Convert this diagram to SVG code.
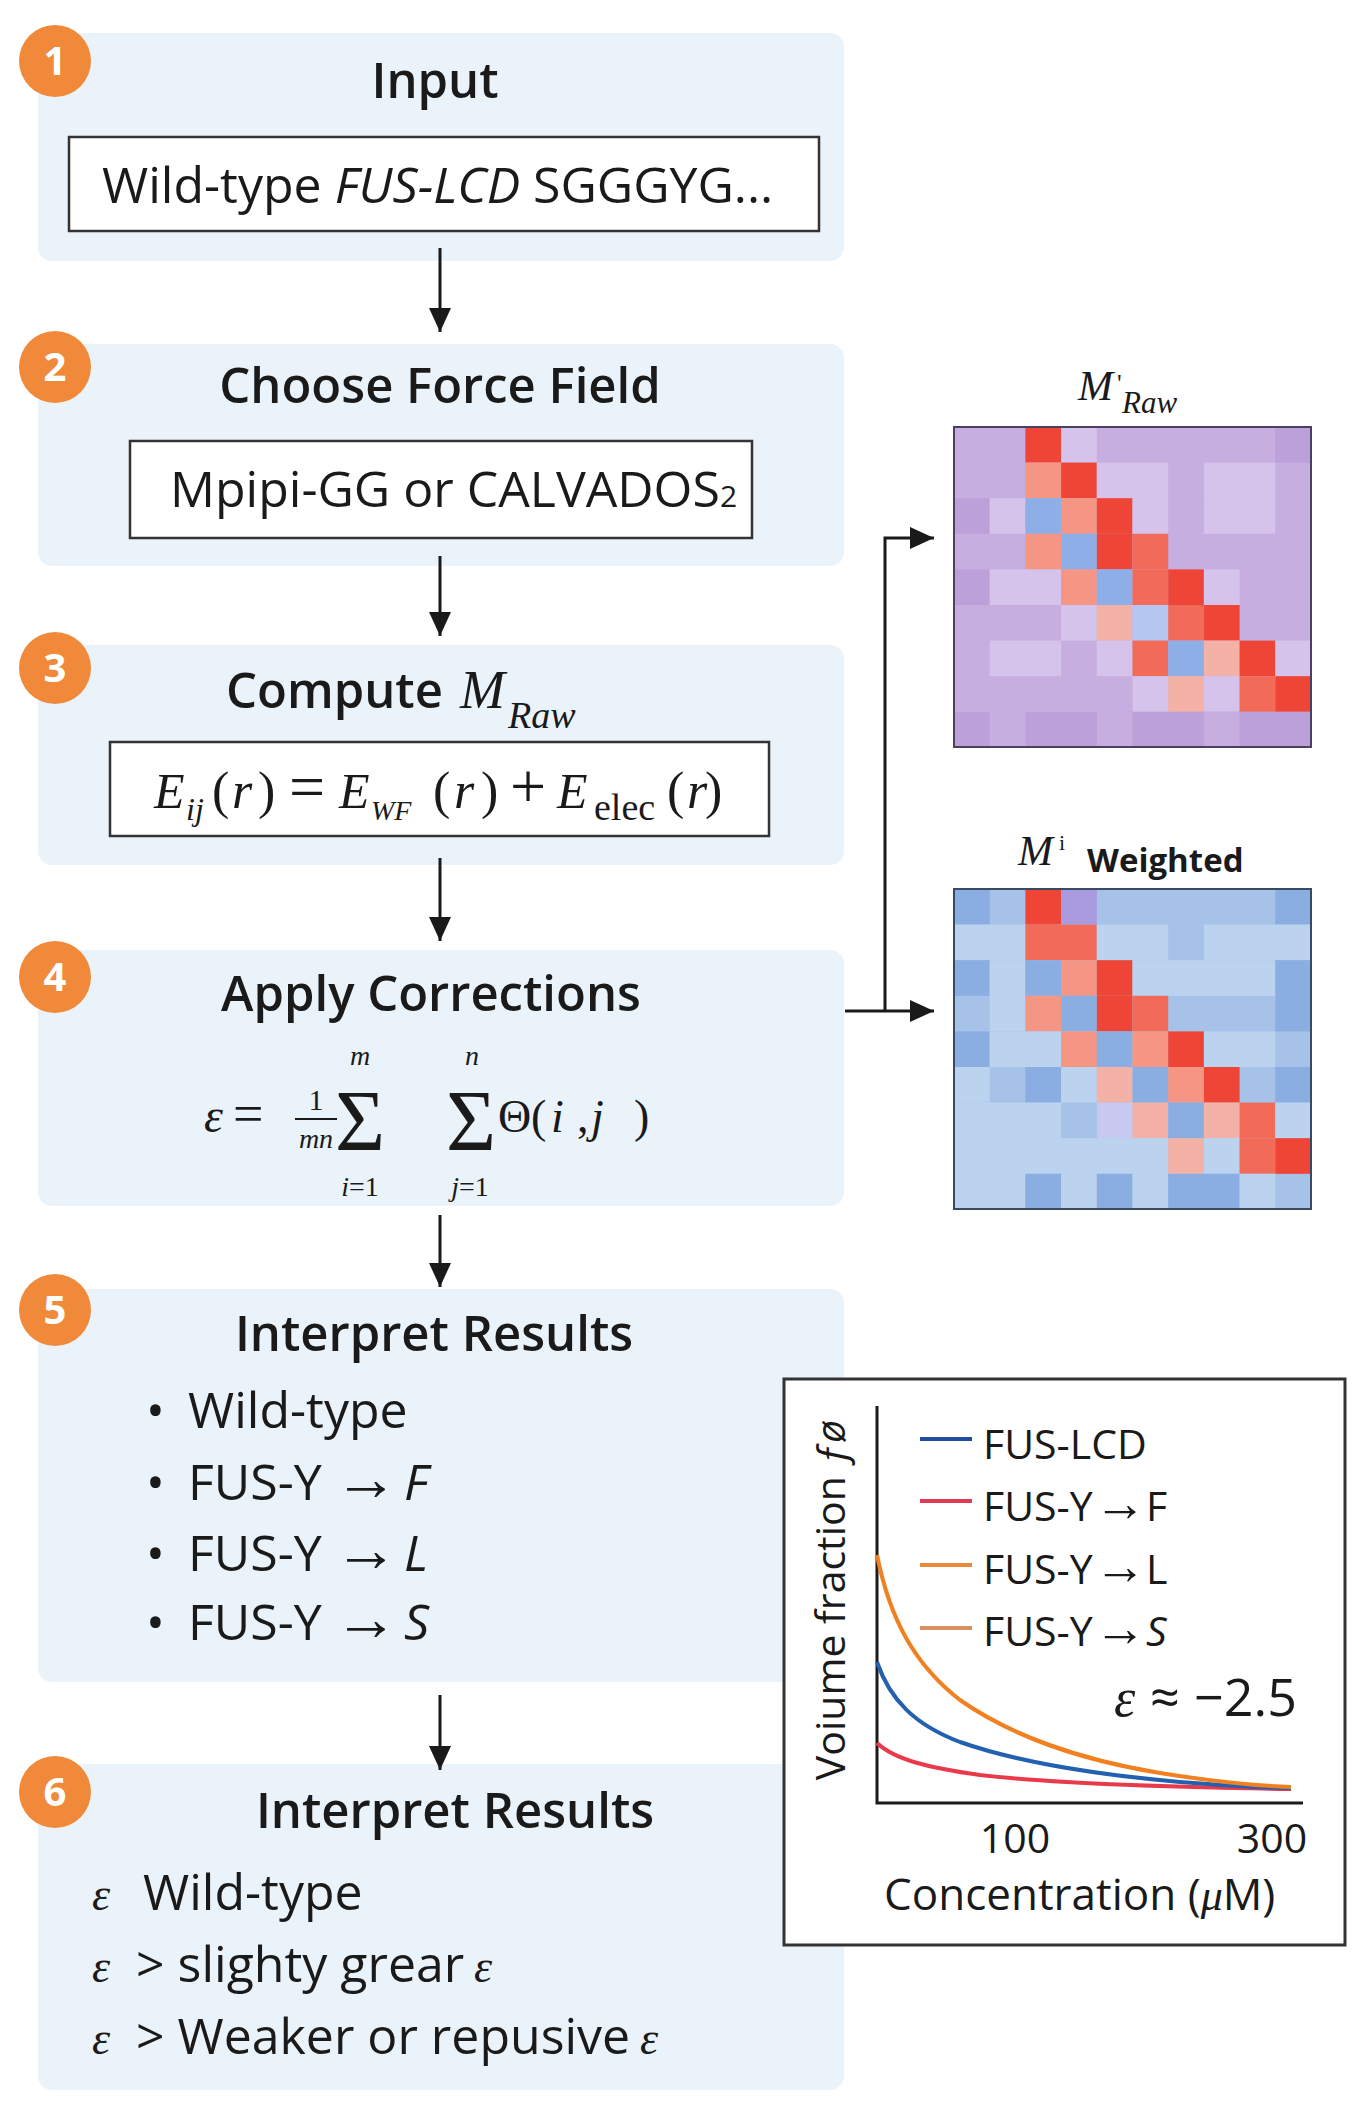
<svg xmlns="http://www.w3.org/2000/svg" width="1363" height="2120" viewBox="0 0 1363 2120">
<defs>
<marker id="ah" viewBox="0 0 24 22" refX="24" refY="11" markerWidth="24" markerHeight="22" markerUnits="userSpaceOnUse" orient="auto">
<path d="M0,0 L24,11 L0,22 Z" fill="#1a1a1a"/>
</marker>
<style>
.panel{fill:#eaf3fa}
.badge{fill:#f08a3a}
.bnum{font-family:"Open Sans","Noto Sans","Liberation Sans",sans-serif;font-weight:700;font-size:40px;fill:#fff;text-anchor:middle}
.h{font-family:"Open Sans","Noto Sans","Liberation Sans",sans-serif;font-weight:600;font-size:49px;fill:#1a1a1a}
.t{font-family:"Open Sans","Noto Sans","Liberation Sans",sans-serif;font-size:50px;fill:#1a1a1a}
.ti{font-style:italic}
.ar{font-family:"Liberation Sans","DejaVu Sans",sans-serif;fill:#1a1a1a;text-anchor:middle}
.m{font-family:"Liberation Serif","DejaVu Serif",serif;font-style:italic;fill:#1a1a1a}
.mu{font-family:"Liberation Serif","DejaVu Serif",serif;fill:#1a1a1a}
.box{fill:#fff;stroke:#333;stroke-width:2.5}
.conn{fill:none;stroke:#1a1a1a;stroke-width:3}
.ct{font-family:"Open Sans","Noto Sans","Liberation Sans",sans-serif;font-size:41px;fill:#1a1a1a}
.a{fill:#c7aee0}.b{fill:#bca0da}.c{fill:#d5c3ec}.R{fill:#ee4536}.T{fill:#f26a58}.S{fill:#f59583}.L{fill:#f4b2a6}.B{fill:#8eaee8}.K{fill:#b5c6f0}
.mm{fill:#a6c2e8}.ll{fill:#bcd3f0}.dd{fill:#8aaee2}.vv{fill:#a99ae0}.cc{fill:#c8c8f0}
</style>
</defs>
<rect width="1363" height="2120" fill="#fff"/>

<g id="step1">
<rect class="panel" x="38" y="33" width="806" height="228" rx="14"/>
<circle class="badge" cx="55" cy="61" r="36"/><text class="bnum" x="55" y="75">1</text>
<text class="h" x="435" y="98" text-anchor="middle">Input</text>
<rect class="box" x="69" y="137" width="750" height="94"/>
<text class="t" x="102" y="203">Wild-type <tspan class="ti">FUS-LCD</tspan> SGGGYG...</text>
</g>

<g id="step2">
<rect class="panel" x="38" y="344" width="806" height="222" rx="14"/>
<circle class="badge" cx="55" cy="367" r="36"/><text class="bnum" x="55" y="381">2</text>
<text class="h" x="440" y="403" text-anchor="middle">Choose Force Field</text>
<rect class="box" x="130" y="441" width="622" height="97"/>
<text class="t" x="170" y="507">Mpipi-GG or CALVADOS<tspan font-size="30">2</tspan></text>
</g>

<g id="step3">
<rect class="panel" x="38" y="645" width="806" height="220" rx="14"/>
<circle class="badge" cx="55" cy="668" r="36"/><text class="bnum" x="55" y="682">3</text>
<text class="h" x="226" y="708">Compute</text>
<text class="m" x="460" y="708" font-size="54">M</text>
<text class="m" x="508" y="728" font-size="38">Raw</text>
<rect class="box" x="110" y="742" width="659" height="94"/>
<text class="m" x="154" y="808" font-size="50">E</text>
<text class="m" x="186" y="820" font-size="32">ij</text>
<text class="mu" x="212 232 258" y="808" font-size="52">(<tspan class="m">r</tspan>)</text>
<text class="mu" x="289" y="808" font-size="64">=</text>
<text class="m" x="339" y="808" font-size="50">E</text>
<text class="m" x="371" y="820" font-size="28">WF</text>
<text class="mu" x="433 454 481" y="808" font-size="52">(<tspan class="m">r</tspan>)</text>
<text class="mu" x="510" y="808" font-size="64">+</text>
<text class="m" x="557" y="808" font-size="50">E</text>
<text class="mu" x="594" y="820" font-size="38">elec</text>
<text class="mu" x="667 687 705" y="808" font-size="52">(<tspan class="m">r</tspan>)</text>
</g>

<g id="step4">
<rect class="panel" x="38" y="950" width="806" height="256" rx="14"/>
<circle class="badge" cx="55" cy="977" r="36"/><text class="bnum" x="55" y="991">4</text>
<text class="h" x="431" y="1011" text-anchor="middle">Apply Corrections</text>
<text class="m" x="204" y="1132" font-size="48">ε</text>
<text class="mu" x="233" y="1132" font-size="54">=</text>
<text class="mu" x="316" y="1110" font-size="30" text-anchor="middle">1</text>
<line x1="295" y1="1119" x2="337" y2="1119" stroke="#1a1a1a" stroke-width="2"/>
<text class="m" x="316" y="1148" font-size="28" text-anchor="middle">mn</text>
<text class="mu" x="335" y="1150" font-size="86">Σ</text>
<text class="m" x="360" y="1065" font-size="28" text-anchor="middle">m</text>
<text class="mu" x="360" y="1196" font-size="28" text-anchor="middle"><tspan class="m">i</tspan>=1</text>
<text class="mu" x="446" y="1150" font-size="86">Σ</text>
<text class="m" x="472" y="1065" font-size="28" text-anchor="middle">n</text>
<text class="mu" x="470" y="1196" font-size="28" text-anchor="middle"><tspan class="m">j</tspan>=1</text>
<text class="mu" x="498 531 551 577 591 634" y="1132" font-size="46">Θ(<tspan class="m">i</tspan>,<tspan class="m">j</tspan>)</text>
</g>

<g id="step5">
<rect class="panel" x="38" y="1289" width="806" height="393" rx="14"/>
<circle class="badge" cx="55" cy="1310" r="36"/><text class="bnum" x="55" y="1324">5</text>
<text class="h" x="434" y="1351" text-anchor="middle">Interpret Results</text>
<text class="t" x="146" y="1428">•</text><text class="t" x="188" y="1428">Wild-type</text>
<text class="t" x="146" y="1500">•</text><text class="t" x="188" y="1500">FUS-Y</text><text class="ar" x="366" y="1500" font-size="64">→</text><text class="t ti" x="404" y="1500">F</text>
<text class="t" x="146" y="1571">•</text><text class="t" x="188" y="1571">FUS-Y</text><text class="ar" x="366" y="1571" font-size="64">→</text><text class="t ti" x="404" y="1571">L</text>
<text class="t" x="146" y="1640">•</text><text class="t" x="188" y="1640">FUS-Y</text><text class="ar" x="366" y="1640" font-size="64">→</text><text class="t ti" x="404" y="1640">S</text>
</g>

<g id="step6">
<rect class="panel" x="38" y="1764" width="806" height="326" rx="14"/>
<circle class="badge" cx="55" cy="1792" r="36"/><text class="bnum" x="55" y="1806">6</text>
<text class="h" x="455" y="1828" text-anchor="middle">Interpret Results</text>
<text class="m" x="92" y="1910" font-size="46">ε</text><text class="t" x="143" y="1910">Wild-type</text>
<text class="m" x="92" y="1982" font-size="46">ε</text><text class="t" x="136" y="1982">&gt; slighty grear</text><text class="m" x="474" y="1982" font-size="46">ε</text>
<text class="m" x="92" y="2054" font-size="46">ε</text><text class="t" x="136" y="2054">&gt; Weaker or repusive</text><text class="m" x="640" y="2054" font-size="46">ε</text>
</g>

<g id="heatmap-raw">
<text class="m" x="1078" y="400" font-size="42">M</text>
<text class="mu" x="1117" y="392" font-size="26">'</text>
<text class="m" x="1122" y="413" font-size="31">Raw</text>
<g transform="translate(954,427) scale(35.7,35.6)">
<rect class="a" x="0" y="0" width="10" height="9"/>
<rect class="R" x="2" y="0" width="1" height="1"/><rect class="c" x="3" y="0" width="1" height="1"/><rect class="b" x="9" y="0" width="1" height="1"/>
<rect class="S" x="2" y="1" width="1" height="1"/><rect class="R" x="3" y="1" width="1" height="1"/><rect class="c" x="4" y="1" width="2" height="1"/><rect class="c" x="7" y="1" width="2" height="1"/>
<rect class="b" x="0" y="2" width="1" height="1"/><rect class="c" x="1" y="2" width="1" height="1"/><rect class="B" x="2" y="2" width="1" height="1"/><rect class="S" x="3" y="2" width="1" height="1"/><rect class="R" x="4" y="2" width="1" height="1"/><rect class="c" x="5" y="2" width="1" height="1"/><rect class="c" x="7" y="2" width="2" height="1"/>
<rect class="S" x="2" y="3" width="1" height="1"/><rect class="B" x="3" y="3" width="1" height="1"/><rect class="R" x="4" y="3" width="1" height="1"/><rect class="T" x="5" y="3" width="1" height="1"/>
<rect class="b" x="0" y="4" width="1" height="1"/><rect class="c" x="1" y="4" width="2" height="1"/><rect class="S" x="3" y="4" width="1" height="1"/><rect class="B" x="4" y="4" width="1" height="1"/><rect class="T" x="5" y="4" width="1" height="1"/><rect class="R" x="6" y="4" width="1" height="1"/><rect class="c" x="7" y="4" width="1" height="1"/>
<rect class="c" x="3" y="5" width="1" height="1"/><rect class="L" x="4" y="5" width="1" height="1"/><rect class="K" x="5" y="5" width="1" height="1"/><rect class="T" x="6" y="5" width="1" height="1"/><rect class="R" x="7" y="5" width="1" height="1"/>
<rect class="c" x="1" y="6" width="2" height="1"/><rect class="c" x="4" y="6" width="1" height="1"/><rect class="T" x="5" y="6" width="1" height="1"/><rect class="B" x="6" y="6" width="1" height="1"/><rect class="L" x="7" y="6" width="1" height="1"/><rect class="R" x="8" y="6" width="1" height="1"/><rect class="c" x="9" y="6" width="1" height="1"/>
<rect class="c" x="5" y="7" width="1" height="1"/><rect class="L" x="6" y="7" width="1" height="1"/><rect class="c" x="7" y="7" width="1" height="1"/><rect class="T" x="8" y="7" width="1" height="1"/><rect class="R" x="9" y="7" width="1" height="1"/>
<rect class="b" x="0" y="8" width="10" height="1"/><rect class="a" x="1" y="8" width="1" height="1"/><rect class="a" x="4" y="8" width="1" height="1"/><rect class="a" x="7" y="8" width="1" height="1"/>
</g>
<rect x="954" y="427" width="357" height="320" fill="none" stroke="#4a4060" stroke-width="2"/>
</g>

<g id="heatmap-weighted">
<text class="m" x="1018" y="865" font-size="42">M</text>
<text class="mu" x="1059" y="850" font-size="22">i</text>
<text x="1087" y="872" font-family="Open Sans,Noto Sans,Liberation Sans,sans-serif" font-weight="700" font-size="33" fill="#1a1a1a">Weighted</text>
<g transform="translate(954,889) scale(35.7,35.6)">
<rect class="mm" x="0" y="0" width="10" height="9"/>
<rect class="dd" x="0" y="0" width="1" height="1"/><rect class="R" x="2" y="0" width="1" height="1"/><rect class="vv" x="3" y="0" width="1" height="1"/><rect class="dd" x="9" y="0" width="1" height="1"/>
<rect class="ll" x="0" y="1" width="2" height="1"/><rect class="T" x="2" y="1" width="2" height="1"/><rect class="ll" x="4" y="1" width="2" height="1"/><rect class="ll" x="7" y="1" width="3" height="1"/>
<rect class="dd" x="0" y="2" width="1" height="1"/><rect class="ll" x="1" y="2" width="1" height="1"/><rect class="dd" x="2" y="2" width="1" height="1"/><rect class="S" x="3" y="2" width="1" height="1"/><rect class="R" x="4" y="2" width="1" height="1"/><rect class="ll" x="5" y="2" width="4" height="1"/><rect class="dd" x="9" y="2" width="1" height="1"/>
<rect class="ll" x="1" y="3" width="1" height="1"/><rect class="S" x="2" y="3" width="1" height="1"/><rect class="dd" x="3" y="3" width="1" height="1"/><rect class="R" x="4" y="3" width="1" height="1"/><rect class="T" x="5" y="3" width="1" height="1"/><rect class="dd" x="9" y="3" width="1" height="1"/>
<rect class="dd" x="0" y="4" width="1" height="1"/><rect class="ll" x="1" y="4" width="2" height="1"/><rect class="S" x="3" y="4" width="1" height="1"/><rect class="dd" x="4" y="4" width="1" height="1"/><rect class="S" x="5" y="4" width="1" height="1"/><rect class="R" x="6" y="4" width="1" height="1"/><rect class="ll" x="7" y="4" width="2" height="1"/>
<rect class="ll" x="0" y="5" width="1" height="1"/><rect class="dd" x="2" y="5" width="1" height="1"/><rect class="ll" x="3" y="5" width="1" height="1"/><rect class="L" x="4" y="5" width="1" height="1"/><rect class="dd" x="5" y="5" width="1" height="1"/><rect class="S" x="6" y="5" width="1" height="1"/><rect class="R" x="7" y="5" width="1" height="1"/><rect class="dd" x="9" y="5" width="1" height="1"/>
<rect class="ll" x="0" y="6" width="3" height="1"/><rect class="cc" x="4" y="6" width="1" height="1"/><rect class="L" x="5" y="6" width="1" height="1"/><rect class="dd" x="6" y="6" width="1" height="1"/><rect class="L" x="7" y="6" width="1" height="1"/><rect class="T" x="8" y="6" width="1" height="1"/><rect class="ll" x="9" y="6" width="1" height="1"/>
<rect class="ll" x="0" y="7" width="6" height="1"/><rect class="L" x="6" y="7" width="1" height="1"/><rect class="ll" x="7" y="7" width="1" height="1"/><rect class="T" x="8" y="7" width="1" height="1"/><rect class="R" x="9" y="7" width="1" height="1"/>
<rect class="ll" x="0" y="8" width="2" height="1"/><rect class="dd" x="2" y="8" width="1" height="1"/><rect class="ll" x="3" y="8" width="1" height="1"/><rect class="dd" x="4" y="8" width="1" height="1"/><rect class="ll" x="5" y="8" width="1" height="1"/><rect class="dd" x="6" y="8" width="2" height="1"/><rect class="ll" x="8" y="8" width="1" height="1"/>
</g>
<rect x="954" y="889" width="357" height="320" fill="none" stroke="#3a4a60" stroke-width="2"/>
</g>

<g id="chart">
<rect x="784" y="1379" width="561" height="566" fill="#fff" stroke="#333" stroke-width="3"/>
<path d="M877,1406 V1803 H1303" fill="none" stroke="#1a1a1a" stroke-width="3"/>
<path d="M877,1743 C895,1760 930,1768 980,1775 C1050,1783 1150,1787 1291,1789" fill="none" stroke="#e83a4a" stroke-width="4"/>
<path d="M877,1662 C890,1700 915,1725 960,1742 C1020,1763 1100,1775 1180,1782 C1230,1786 1270,1788 1291,1788" fill="none" stroke="#2460b0" stroke-width="4"/>
<path d="M877,1555 C890,1620 915,1665 960,1700 C1010,1735 1080,1760 1160,1773 C1210,1781 1260,1786 1291,1787" fill="none" stroke="#f08020" stroke-width="4"/>
<line x1="920" y1="1439" x2="972" y2="1439" stroke="#1f4e9c" stroke-width="4"/>
<line x1="920" y1="1501" x2="972" y2="1501" stroke="#e23a52" stroke-width="4"/>
<line x1="920" y1="1565" x2="972" y2="1565" stroke="#e98a3a" stroke-width="4"/>
<line x1="920" y1="1628" x2="972" y2="1628" stroke="#d99060" stroke-width="4"/>
<text class="ct" x="983" y="1459">FUS-LCD</text>
<text class="ct" x="983" y="1521">FUS-Y</text><text class="ar" x="1120" y="1521" font-size="52">→</text><text class="ct" x="1146" y="1521">F</text>
<text class="ct" x="983" y="1584">FUS-Y</text><text class="ar" x="1120" y="1584" font-size="52">→</text><text class="ct" x="1146" y="1584">L</text>
<text class="ct" x="983" y="1646">FUS-Y</text><text class="ar" x="1120" y="1646" font-size="52">→</text><text class="ct ti" x="1146" y="1646">S</text>
<text class="m" x="1114" y="1716" font-size="54">ε</text>
<text class="ct" x="1150" y="1716" style="font-size:52px">≈</text>
<text class="ct" x="1194" y="1716" style="font-size:52px">−2.5</text>
<text class="ct" x="1015" y="1853" text-anchor="middle">100</text>
<text class="ct" x="1272" y="1853" text-anchor="middle">300</text>
<text class="ct" x="884" y="1910" style="font-size:44px">Concentration  (<tspan class="m">μ</tspan>M)</text>
<text class="ct" text-anchor="middle" transform="translate(845,1600) rotate(-90)">Voiume fraction <tspan font-style="italic">ƒø</tspan></text>
</g>

<g id="connectors">
<line class="conn" x1="440" y1="248" x2="440" y2="332" marker-end="url(#ah)"/>
<line class="conn" x1="440" y1="556" x2="440" y2="636" marker-end="url(#ah)"/>
<line class="conn" x1="440" y1="858" x2="440" y2="941" marker-end="url(#ah)"/>
<line class="conn" x1="440" y1="1215" x2="440" y2="1287" marker-end="url(#ah)"/>
<line class="conn" x1="440" y1="1695" x2="440" y2="1770" marker-end="url(#ah)"/>
<line class="conn" x1="845" y1="1011" x2="934" y2="1011" marker-end="url(#ah)"/>
<path class="conn" d="M885,1011 V538 H934" marker-end="url(#ah)"/>
</g>
</svg>
